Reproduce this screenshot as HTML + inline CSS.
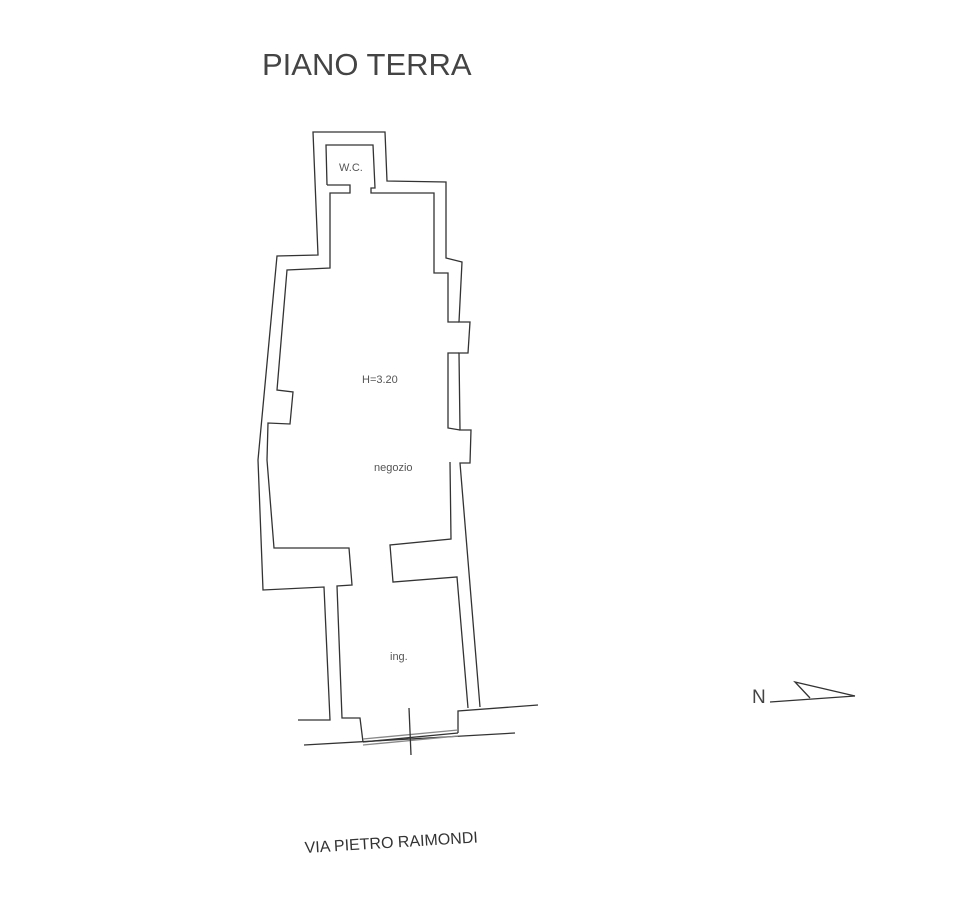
<!DOCTYPE html>
<html><head><meta charset="utf-8"><style>
html,body{margin:0;padding:0;background:#fff;}
svg{display:block;}
</style></head><body>
<svg width="958" height="902" viewBox="0 0 958 902" xmlns="http://www.w3.org/2000/svg">
<rect width="958" height="902" fill="#fff"/>
<g fill="none" stroke="#333" stroke-width="1.3" stroke-linejoin="miter">
<polyline points="298,720 330,720 324,587 263,590 258,460 277,256 318,255 313,132 385,132 387,181 446,182 446,258 462,262 459,322 470,322 468,353 459,353 460,430 471,430 470,463 460,463 480,707"/>
<polyline points="327,185 326,145 373,145 375,188 371,188 371,193 434,193 434,273 448,273 448,322 459,322"/>
<polyline points="459,353 448,353 448,428 460,430"/>
<polyline points="327,185 350,185 350,193 330,193 330,268 287,270 277,390 293,392 290,424 268,423 267,460 274,548 349,548 352,585 337,586 342,718 360,718 363,742"/>
<polyline points="450,462 451,539 390,545 393,582 457,577 468,708"/>
<polyline points="458,733 458,711 538,705"/>
<line x1="304" y1="745" x2="515" y2="733"/>
<line x1="363" y1="742" x2="458" y2="733"/>
<line x1="363" y1="739" x2="458" y2="730" stroke="#888"/>
<line x1="363" y1="745" x2="458" y2="736" stroke="#888"/>
<line x1="409" y1="708" x2="411" y2="755"/>
<line x1="770" y1="702" x2="855" y2="696"/>
<polyline points="810,698 795,682 855,696"/>
</g>
<g font-family="Liberation Sans, sans-serif" fill="#333">
<text x="262" y="75" font-size="31" fill="#444">PIANO TERRA</text>
<text x="339" y="171" font-size="11" fill="#555">W.C.</text>
<text x="362" y="383" font-size="11" fill="#555">H=3.20</text>
<text x="374" y="471" font-size="11" fill="#555">negozio</text>
<text x="390" y="660" font-size="11" fill="#555">ing.</text>
<text x="752" y="703" font-size="19" fill="#444">N</text>
<text x="305" y="853" font-size="16" fill="#333" transform="rotate(-3.5 305 853)">VIA PIETRO RAIMONDI</text>
</g>
</svg>
</body></html>
